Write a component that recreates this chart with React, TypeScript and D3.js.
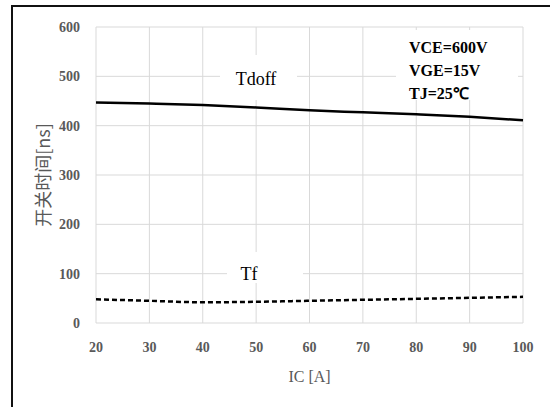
import { useEffect, useRef } from 'react'
import * as d3 from 'd3'

const currents = [20, 30, 40, 50, 60, 70, 80, 90, 100]
const tdoff = [447, 445, 442, 437, 431, 427, 423, 418, 411]
const tf = [48, 45, 42, 43, 45, 47, 49, 51, 53]
const xTicks = [20, 30, 40, 50, 60, 70, 80, 90, 100]
const yTicks = [0, 100, 200, 300, 400, 500, 600]
const conditions = ['VCE=600V', 'VGE=15V', 'TJ=25℃']

export default function App() {
  const svgRef = useRef<SVGSVGElement>(null)

  useEffect(() => {
    if (!svgRef.current) return
    const svg = d3.select(svgRef.current)
    svg.selectAll('*').remove()

    const serif = 'Liberation Serif'
    const gray = '#595959'

    svg.append('rect')
      .attr('width', 550).attr('height', 407).attr('fill', '#fff')

    // outer frame, runs off the right and bottom edges
    svg.append('rect')
      .attr('x', 12).attr('y', 6)
      .attr('width', 560).attr('height', 420)
      .attr('fill', 'none').attr('stroke', '#111').attr('stroke-width', 2)

    const x = d3.scaleLinear().domain([20, 100]).range([96, 523])
    const y = d3.scaleLinear().domain([0, 600]).range([323, 27])

    const grid = svg.append('g')
    xTicks.forEach(t => {
      grid.append('line')
        .attr('x1', x(t)).attr('x2', x(t))
        .attr('y1', y(600)).attr('y2', y(0))
        .attr('stroke', '#d9d9d9').attr('stroke-width', 1)
    })
    yTicks.forEach(t => {
      grid.append('line')
        .attr('x1', x(20)).attr('x2', x(100))
        .attr('y1', y(t)).attr('y2', y(t))
        .attr('stroke', '#d9d9d9').attr('stroke-width', 1)
    })

    // white label boxes that hide the grid
    const boxes = [
      { x: 220, y: 55, w: 77, h: 45 },
      { x: 227, y: 252, w: 76, h: 31 },
      { x: 396, y: 30, w: 122, h: 70 },
    ]
    boxes.forEach(b => {
      svg.append('rect')
        .attr('x', b.x).attr('y', b.y).attr('width', b.w).attr('height', b.h)
        .attr('fill', '#fff')
    })

    const line = d3.line<number>()
      .x((_, i) => x(currents[i]))
      .y(d => y(d))
      .curve(d3.curveMonotoneX)

    svg.append('path')
      .datum(tdoff)
      .attr('fill', 'none').attr('stroke', '#000').attr('stroke-width', 2.5)
      .attr('d', line)

    svg.append('path')
      .datum(tf)
      .attr('fill', 'none').attr('stroke', '#000').attr('stroke-width', 2.5)
      .attr('stroke-dasharray', '5,3')
      .attr('d', line)

    svg.append('g').selectAll('text')
      .data(yTicks)
      .join('text')
      .attr('x', 80)
      .attr('y', d => y(d))
      .attr('dy', '0.35em')
      .attr('text-anchor', 'end')
      .attr('font-family', serif).attr('font-weight', 'bold')
      .attr('font-size', 14).attr('fill', gray)
      .text(d => d)

    svg.append('g').selectAll('text')
      .data(xTicks)
      .join('text')
      .attr('x', d => x(d))
      .attr('y', 352)
      .attr('text-anchor', 'middle')
      .attr('font-family', serif).attr('font-weight', 'bold')
      .attr('font-size', 14).attr('fill', gray)
      .text(d => d)

    svg.append('text')
      .attr('x', (x(20) + x(100)) / 2).attr('y', 382)
      .attr('text-anchor', 'middle')
      .attr('font-family', serif).attr('font-size', 16).attr('fill', gray)
      .text('IC [A]')

    svg.append('text')
      .attr('transform', `translate(50,${(y(0) + y(600)) / 2}) rotate(-90)`)
      .attr('text-anchor', 'middle')
      .attr('font-family', 'Noto Sans CJK SC')
      .attr('font-size', 18).attr('fill', gray)
      .text('开关时间[ns]')

    svg.append('text')
      .attr('x', 256).attr('y', 85)
      .attr('text-anchor', 'middle')
      .attr('font-family', serif).attr('font-size', 18).attr('fill', '#000')
      .text('Tdoff')

    svg.append('text')
      .attr('x', 249).attr('y', 280)
      .attr('text-anchor', 'middle')
      .attr('font-family', serif).attr('font-size', 18).attr('fill', '#000')
      .text('Tf')

    svg.append('g').selectAll('text')
      .data(conditions)
      .join('text')
      .attr('x', 409)
      .attr('y', (_, i) => 53 + i * 23)
      .attr('font-family', serif).attr('font-weight', 'bold')
      .attr('font-size', 16).attr('fill', '#000')
      .text(d => d)
  }, [])

  return (
    <svg
      ref={svgRef}
      width={550}
      height={407}
      style={{ position: 'absolute', left: 0, top: 0, display: 'block' }}
    />
  )
}
